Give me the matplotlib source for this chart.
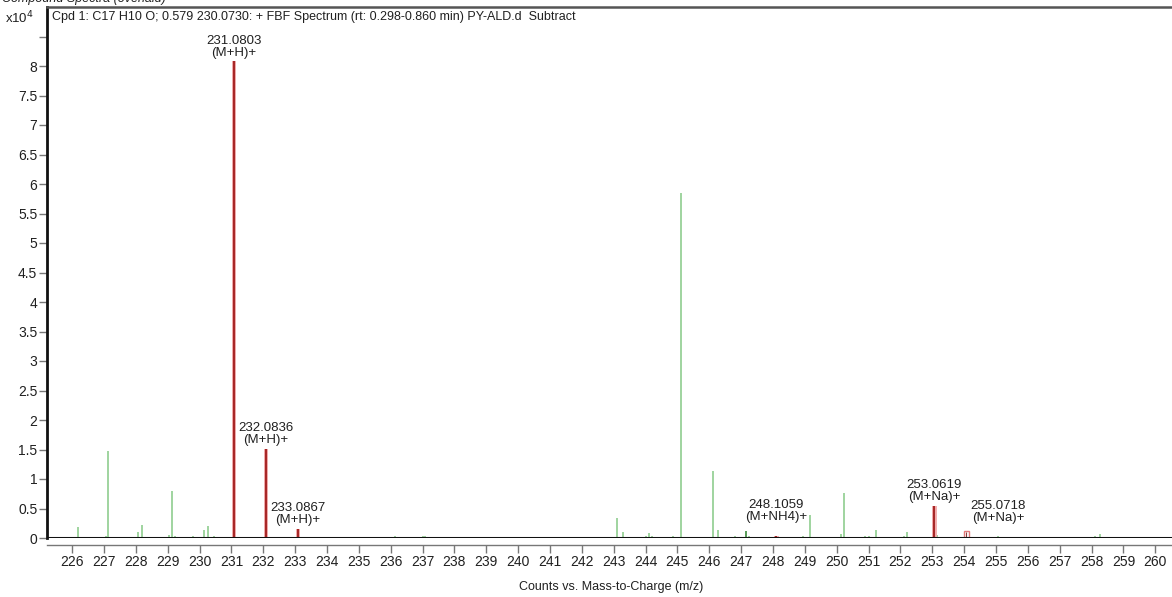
import matplotlib
matplotlib.use("Agg")
import matplotlib.pyplot as plt
from matplotlib.patches import Rectangle

plt.rcParams['font.family'] = ['Liberation Sans', 'DejaVu Sans']

# Background (overlaid) spectrum peaks, intensity in units of 1e4 counts
green_mz = [226.18, 226.98, 227.05, 227.14, 228.07, 228.18, 229.05, 229.13, 229.22,
            229.79, 230.13, 230.26, 230.45, 234.10, 235.07, 236.14, 237.00, 237.08,
            237.80, 243.10, 243.28, 244.00, 244.10, 244.20, 244.85, 245.10, 246.12,
            246.27, 246.80, 247.25, 248.95, 249.17, 250.12, 250.23, 250.90, 251.00,
            251.24, 252.10, 252.20, 253.15, 255.07, 256.20, 257.15, 258.12, 258.26]
green_int = [0.19, 0.02, 0.03, 1.48, 0.10, 0.22, 0.05, 0.80, 0.03,
             0.03, 0.13, 0.20, 0.03, 0.02, 0.02, 0.03, 0.03, 0.03,
             0.02, 0.34, 0.11, 0.04, 0.08, 0.03, 0.03, 5.85, 1.13,
             0.14, 0.03, 0.03, 0.04, 0.39, 0.06, 0.76, 0.03, 0.03,
             0.13, 0.04, 0.10, 0.05, 0.03, 0.02, 0.02, 0.03, 0.07]
dark_green_mz = [247.14]
dark_green_int = [0.12]

# Compound (matched) peaks
red_mz = [231.0803, 232.0836, 233.0867, 248.1059, 253.0619, 255.0718]
red_int = [8.08, 1.51, 0.16, 0.04, 0.54, 0.02]
red_labels = ["231.0803\n(M+H)+", "232.0836\n(M+H)+", "233.0867\n(M+H)+",
              "248.1059\n(M+NH4)+", "253.0619\n(M+Na)+", "255.0718\n(M+Na)+"]
label_pad_pt = [2, 2, 2, 9, 2, 9]
box_mz = [254.07]
box_int = [0.12]

x_ticks = list(range(226, 261))
y_ticks = [i * 0.5 for i in range(18)]

W, H = 1172, 597
fig = plt.figure(figsize=(W / 100, H / 100), dpi=100)
left, bottom, top = 47 / W, (H - 538) / H, (H - 7) / H
ax = fig.add_axes([left, bottom, 1.0 - left + 0.002, top - bottom])

ax.set_xlim(225.21, 260.6)
ax.set_ylim(0, 9.0)

green = '#8fcd8f'
ax.vlines(green_mz, 0, green_int, color=green, lw=1.2)
ax.vlines(dark_green_mz, 0, dark_green_int, color='#3a8a3a', lw=1.2)

pink = '#f3b0b0'
dark_red = '#a82828'
ax.bar(red_mz, red_int, width=0.15, color=pink, edgecolor='none', zorder=3)
ax.vlines(red_mz, 0, red_int, color=dark_red, lw=1.5, zorder=4)
for m, v in zip(box_mz, box_int):
    ax.add_patch(Rectangle((m - 0.07, 0), 0.14, v, facecolor='none',
                           edgecolor='#e27a7a', lw=1.0, zorder=3))
    ax.vlines([m], 0, v * 0.8, color='#8a4040', lw=0.8, zorder=4)

for m, v, t, p in zip(red_mz, red_int, red_labels, label_pad_pt):
    ax.annotate(t, (m, v), xytext=(0, p), textcoords='offset points',
                ha='center', va='bottom', fontsize=9.5, color='#202020',
                linespacing=1.0)

# baseline
ax.axhline(0, color='#111111', lw=2.2, zorder=5)

ax.spines['right'].set_visible(False)
ax.spines['left'].set_linewidth(2.0)
ax.spines['left'].set_color('#111111')
ax.spines['top'].set_linewidth(1.8)
ax.spines['top'].set_color('#555555')
ax.spines['bottom'].set_position(('outward', 5))
ax.spines['bottom'].set_color('#777777')
ax.spines['bottom'].set_linewidth(1.0)

ax.set_xticks(x_ticks)
ax.set_xticklabels([str(t) for t in x_ticks])
ax.set_yticks(y_ticks)
ax.set_yticklabels(['%g' % t for t in y_ticks[:-1]] + [''])
ax.tick_params(axis='x', direction='out', length=6, width=1.0, color='#777777',
               labelsize=10, pad=1, labelcolor='#202020')
ax.tick_params(axis='y', direction='out', length=6, width=1.0, color='#777777',
               labelsize=10, pad=1, labelcolor='#202020')

ax.set_xlabel('Counts vs. Mass-to-Charge (m/z)', fontsize=9, color='#202020',
              labelpad=9)

ax.text(0.004, 0.993, 'Cpd 1: C17 H10 O; 0.579 230.0730: + FBF Spectrum (rt: 0.298-0.860 min) PY-ALD.d  Subtract',
        transform=ax.transAxes, ha='left', va='top', fontsize=9, color='#202020')

fig.text(5 / W, 1 - 18 / H, r'x10$^{4}$', ha='left', va='center', fontsize=9.5,
         color='#202020')
fig.text(2 / W, 1.0 + 1 / H, 'Compound Spectra (overlaid)', ha='left', va='center',
         fontsize=9, style='italic', color='#202020')

fig.savefig('out.png', dpi=100)
